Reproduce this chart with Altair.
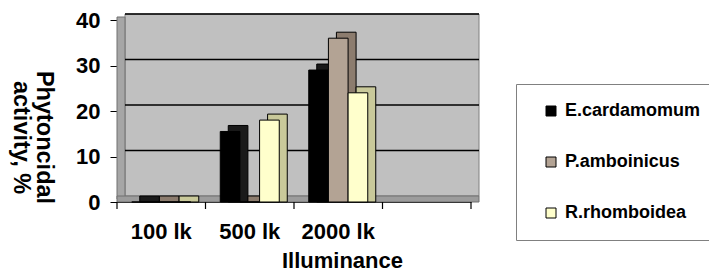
import altair as alt
import pandas as pd

categories = ["100 lk", "500 lk", "2000 lk", " "]
series = ["E.cardamomum", "P.amboinicus", "R.rhomboidea"]
e_cardamomum = [0, 15.5, 29]
p_amboinicus = [0, 0, 36]
r_rhomboidea = [0, 18, 24]
y_ticks = [0, 10, 20, 30, 40]
grid_values = [10, 20, 30, 40]

front_colors = ["#000000", "#b3a394", "#ffffcc"]
side_colors = {"E.cardamomum": "#1a1a1a", "P.amboinicus": "#8c7c6e", "R.rhomboidea": "#c9c99a"}

rows = []
for s, vals in zip(series, [e_cardamomum, p_amboinicus, r_rhomboidea]):
    for c, v in zip(categories[:3], vals):
        rows.append({"illum": c, "series": s, "value": v, "shade": side_colors[s]})
df = pd.DataFrame(rows)
grid_df = pd.DataFrame({"g": grid_values})
tick_df = pd.DataFrame({"illum": categories})

W, H = 354, 182
BAND = W / len(categories)
DX, DY = 8, -6
FONT = "Liberation Sans"

x_scale = alt.Scale(domain=categories, paddingInner=0, paddingOuter=0)
y_scale = alt.Scale(domain=[0, 40])
xo_scale = alt.Scale(domain=series, paddingInner=0, paddingOuter=0.75)
xo_scale_shadow = alt.Scale(domain=series, paddingInner=0, paddingOuter=0.75,
                            range=[DX, BAND + DX])

x_axis = alt.Axis(title="Illuminance", labelAngle=0, labelAlign="center",
                  labelBaseline="top", ticks=False,
                  labelPadding=19, domainColor="black",
                  labelFont=FONT, labelFontWeight="bold", labelFontSize=22,
                  labelColor="black", titleFont=FONT, titleFontWeight="bold",
                  titleFontSize=22, titleColor="black", titleX=225, titleY=58,
                  titleAlign="center", titleBaseline="middle", grid=False)
y_axis = alt.Axis(title=["Phytoncidal", "activity, %"], values=y_ticks, grid=False,
                  tickSize=7, labelPadding=10, domainColor="black", tickColor="black",
                  labelFont=FONT, labelFontWeight="bold", labelFontSize=22,
                  labelColor="black", titleFont=FONT, titleFontWeight="bold",
                  titleFontSize=23.5, titleColor="black", titleAngle=90,
                  titleX=-74, titleY=117, titleAlign="center",
                  titleBaseline="middle", titleLineHeight=23)

base_one = alt.Chart(pd.DataFrame({"a": [0]}))

back_wall = base_one.mark_rect(fill="#c0c0c0", stroke="#808080", strokeWidth=1,
                                xOffset=DX, x2Offset=DX, yOffset=DY, y2Offset=DY).encode(
    x=alt.value(0), x2=alt.value("width"),
    y=alt.Y(datum=40, type="quantitative", scale=y_scale, axis=y_axis), y2=alt.datum(0))

left_wall = base_one.mark_rect(fill="#a6a6a6", stroke="#707070", strokeWidth=1,
                                yOffset=DY / 2, y2Offset=DY / 2).encode(
    x=alt.value(0), x2=alt.value(DX),
    y=alt.Y(datum=40, type="quantitative", scale=y_scale, axis=y_axis), y2=alt.datum(0))

floor = base_one.mark_rect(fill="#9c9c9c", stroke="#707070", strokeWidth=1,
                           x2Offset=DX, y2Offset=DY).encode(
    x=alt.value(0), x2=alt.value("width"),
    y=alt.Y(datum=0, type="quantitative", scale=y_scale, axis=y_axis), y2=alt.datum(0))

grid = alt.Chart(grid_df).mark_rule(color="black", strokeWidth=1.6,
                                     xOffset=DX, x2Offset=DX, yOffset=DY).encode(
    x=alt.value(0), x2=alt.value("width"),
    y=alt.Y("g:Q", scale=y_scale, axis=y_axis))

ticks_start = alt.Chart(tick_df).mark_rule(color="black", strokeWidth=1.2, y2Offset=7).encode(
    x=alt.X("illum:N", scale=x_scale, bandPosition=0, axis=x_axis),
    y=alt.value("height"), y2=alt.value("height"))

ticks_end = alt.Chart(tick_df.tail(1)).mark_rule(color="black", strokeWidth=1.2, y2Offset=7).encode(
    x=alt.X("illum:N", scale=x_scale, bandPosition=1, axis=x_axis),
    y=alt.value("height"), y2=alt.value("height"))

bars_base = alt.Chart(df)

shadow = bars_base.mark_bar(stroke="black", strokeWidth=1, yOffset=DY).encode(
    x=alt.X("illum:N", scale=x_scale, axis=x_axis),
    xOffset=alt.XOffset("series:N", scale=xo_scale_shadow),
    y=alt.Y("value:Q", scale=y_scale, axis=y_axis),
    y2=alt.datum(0),
    fill=alt.Fill("shade:N", scale=None),
)

front = bars_base.mark_bar(stroke="black", strokeWidth=1).encode(
    x=alt.X("illum:N", scale=x_scale, axis=x_axis),
    xOffset=alt.XOffset("series:N", scale=xo_scale),
    y=alt.Y("value:Q", scale=y_scale, axis=y_axis),
    y2=alt.datum(0),
    fill=alt.Fill("series:N", scale=alt.Scale(domain=series, range=front_colors),
                  title=None,
                  legend=alt.Legend(orient="none", legendX=399, legendY=64, padding=18,
                                    strokeColor="#808080", fillColor="white",
                                    symbolType="square", symbolSize=100,
                                    symbolStrokeColor="black", symbolStrokeWidth=1,
                                    symbolOffset=8, labelOffset=5, rowPadding=33,
                                    labelFont=FONT, labelFontWeight="bold",
                                    labelFontSize=18, labelColor="black")),
)

chart = alt.layer(back_wall, left_wall, floor, grid, ticks_start, ticks_end, shadow, front).resolve_scale(
    fill="independent", xOffset="independent"
).properties(
    width=W, height=H,
    autosize=alt.AutoSizeParams(type="none"),
    padding={"left": 109, "top": 12, "right": 238, "bottom": 69},
).configure_view(strokeWidth=0)

chart.save("out.html", embed_options={"renderer": "svg", "actions": False})
